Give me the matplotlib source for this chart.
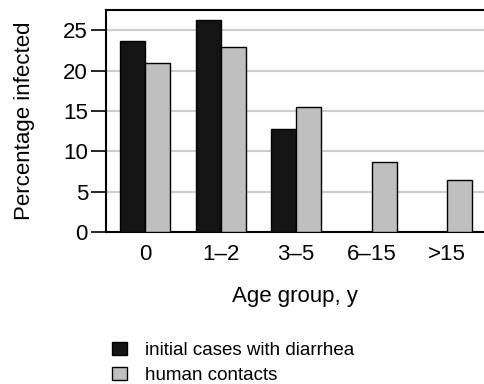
import numpy as np
import matplotlib
matplotlib.use('Agg')
import matplotlib.pyplot as plt

plt.rcParams['font.family'] = ['Liberation Sans', 'DejaVu Sans']

# 数据
age_groups = ['0', '1\u20132', '3\u20135', '6\u201315', '>15']
initial_cases = [23.7, 26.2, 12.7, 0, 0]
human_contacts = [20.9, 22.9, 15.5, 8.7, 6.4]

fig = plt.figure(figsize=(4.84, 3.84), dpi=100)
ax = fig.add_axes([106 / 484, 1 - 232 / 384, 1 - 106 / 484, (232 - 10) / 384])

x = np.arange(len(age_groups))
w = 1 / 3
ax.bar(x - w / 2, initial_cases, width=w, color='#141414', edgecolor='black',
       linewidth=1, label='initial cases with diarrhea', zorder=3)
ax.bar(x + w / 2, human_contacts, width=w, color='#bfbfbf', edgecolor='black',
       linewidth=1, label='human contacts', zorder=3)

ax.set_xlim(-0.52, 4.49)
ax.set_ylim(0, 27.5)
ax.set_yticks([0, 5, 10, 15, 20, 25])
ax.set_xticks(x)
ax.set_xticklabels(age_groups)
ax.yaxis.grid(True, color='#cccccc', linewidth=1.5, zorder=0)
ax.set_axisbelow(True)

ax.tick_params(axis='y', length=11, width=1.2, labelsize=16, pad=2)
ax.tick_params(axis='x', length=0, labelsize=16, pad=9)
ax.spines['right'].set_visible(False)
for s in ['left', 'top', 'bottom']:
    ax.spines[s].set_linewidth(1.5)

ax.set_ylabel('Percentage infected', fontsize=16, labelpad=20)
ax.set_xlabel('Age group, y', fontsize=16, labelpad=15)

handles, labels = ax.get_legend_handles_labels()
fig.legend(handles, labels, loc='upper left', bbox_to_anchor=(0.215, 0.13),
           frameon=False, fontsize=13.5, handlelength=0.85, handleheight=0.7,
           handletextpad=0.95, labelspacing=0.45, borderaxespad=0)

plt.savefig('out.png', dpi=100)
